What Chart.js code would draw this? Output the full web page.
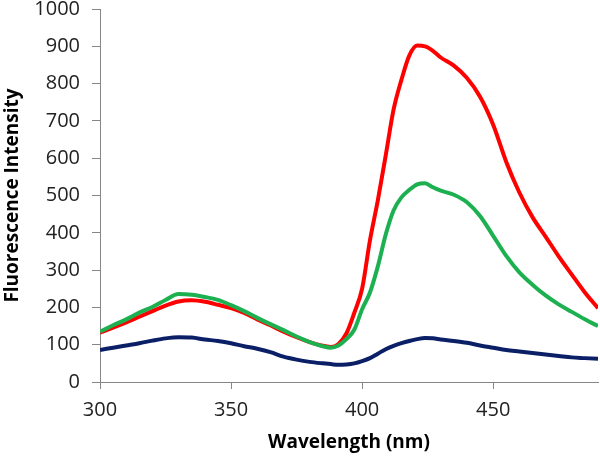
<!DOCTYPE html>
<html>
<head>
<meta charset="utf-8">
<script src="https://cdn.jsdelivr.net/npm/chart.js@4.4.1/dist/chart.umd.min.js"></script>
<style>
html,body{margin:0;padding:0;background:#fff;}
#wrap{width:600px;height:461px;position:relative;}
</style>
</head>
<body>
<div id="wrap"><canvas id="c" width="600" height="461"></canvas></div>
<script>
const wavelengths = [300,305,310,315,320,325,330,335,340,345,350,355,360,365,370,375,380,385,388,391,394,397,400,403,406,409,412,415,418,421,424,427,430,435,440,445,450,455,460,465,470,475,480,485,490];
const redSeries   = [132,146,160,175,190,205,216,219,215,207,198,185,168,152,135,120,107,97,94,102,130,185,250,380,487,607,730,810,875,902,900,888,870,848,815,765,690,590,508,442,390,337,288,240,198];
const greenSeries = [135,152,168,186,201,220,236,234,228,220,206,190,172,155,139,122,107,96,92,98,115,140,195,240,310,395,460,495,515,530,533,522,513,502,482,445,392,338,294,261,232,208,188,168,150];
const blueSeries  = [86,92,98,104,111,117,120,119,114,110,104,96,89,80,68,60,54,50,48,46,47,50,56,64,76,88,97,104,110,115,118,117,114,110,105,98,92,86,82,78,74,70,66,64,62];
const xTicks = [300,350,400,450];
const yTicks = [0,100,200,300,400,500,600,700,800,900,1000];

const toPts = arr => arr.map((v,i)=>({x:wavelengths[i], y:v}));
const axisGray = '#868686';
const fam = '"Open Sans", Lato, sans-serif';
const tickFont = {family:fam, size:20};
const titleFont = {family:fam, size:19, weight:'bold'};

new Chart(document.getElementById('c'), {
  type:'line',
  data:{datasets:[
    {data:toPts(blueSeries), borderColor:'#0A1F66', borderWidth:4, pointRadius:0, cubicInterpolationMode:'monotone'},
    {data:toPts(greenSeries), borderColor:'#1DB050', borderWidth:4, pointRadius:0, cubicInterpolationMode:'monotone'},
    {data:toPts(redSeries), borderColor:'#FF0000', borderWidth:4, pointRadius:0, cubicInterpolationMode:'monotone'}
  ]},
  options:{
    responsive:false, animation:false,
    layout:{padding:{top:9,right:2,left:0,bottom:0}},
    plugins:{legend:{display:false}, tooltip:{enabled:false}},
    scales:{
      x:{type:'linear', min:300, max:490,
        afterBuildTicks:s=>{s.ticks = xTicks.map(v=>({value:v}));},
        afterFit:s=>{s.height = 79; s.paddingLeft = 0; s.paddingRight = 0;},
        border:{color:axisGray, width:1},
        grid:{drawOnChartArea:false, color:axisGray, tickLength:7},
        ticks:{color:'#222', font:tickFont, padding:9, maxRotation:0, callback:v=>String(v)},
        title:{display:true, text:'Wavelength (nm)', color:'#000', font:titleFont, padding:{top:0,bottom:7}}
      },
      y:{type:'linear', min:0, max:1000,
        afterBuildTicks:s=>{s.ticks = yTicks.map(v=>({value:v}));},
        afterFit:s=>{s.width = 100; s.paddingTop = 0; s.paddingBottom = 0;},
        border:{color:axisGray, width:1},
        grid:{drawOnChartArea:false, color:axisGray, tickLength:8},
        ticks:{color:'#222', font:tickFont, padding:12, callback:v=>String(v)},
        title:{display:true, text:'Fluorescence Intensity', color:'#000', font:titleFont, padding:{top:1,bottom:0}}
      }
    }
  }
});
</script>
</body>
</html>
